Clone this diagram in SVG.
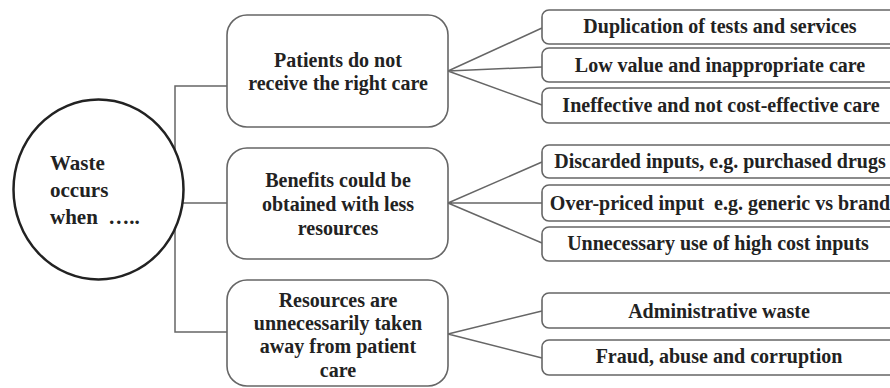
<svg xmlns="http://www.w3.org/2000/svg" width="890" height="388" viewBox="0 0 890 388">
<style>
.t{font-weight:bold;font-size:20px;fill:#222}
.c{text-anchor:middle}
.box{fill:#fff;stroke:#666;stroke-width:1.6}
.rb{fill:#fff;stroke:#666;stroke-width:1.6}
.ln{fill:none;stroke:#666;stroke-width:1.5}
</style>
<rect width="890" height="388" fill="#fff"/>
<g id="connectors">
<polyline class="ln" points="227,86 175,86 175,332 227,332"/>
<line class="ln" x1="183" y1="203" x2="227" y2="203"/>
<path class="ln" d="M448,71 L542,28 M448,71 L542,67 M448,71 L542,105"/>
<path class="ln" d="M448,203 L542,162 M448,203 L542,203 M448,203 L542,243"/>
<path class="ln" d="M448,334 L542,311 M448,334 L542,358"/>
</g>
<g class="t" font-family="Liberation Serif, Times New Roman, serif">
<g id="root">
<ellipse cx="98.5" cy="189.5" rx="85" ry="90" fill="#fff" stroke="#222" stroke-width="2.5"/>
<text x="50" y="170" font-size="21">Waste</text>
<text x="50" y="197" font-size="21">occurs</text>
<text x="50" y="224" font-size="21" xml:space="preserve">when  …..</text>
</g>
<g id="cat1">
<rect class="box" x="227" y="15" width="221" height="112" rx="20"/>
<text class="c" x="338" y="67">Patients do not</text>
<text class="c" x="338" y="90">receive the right care</text>
</g>
<g id="cat2">
<rect class="box" x="227" y="148" width="221" height="111" rx="20"/>
<text class="c" x="338" y="187">Benefits could be</text>
<text class="c" x="338" y="211">obtained with less</text>
<text class="c" x="338" y="235">resources</text>
</g>
<g id="cat3">
<rect class="box" x="227" y="280" width="221" height="106" rx="20"/>
<text class="c" x="338" y="307">Resources are</text>
<text class="c" x="338" y="330">unnecessarily taken</text>
<text class="c" x="338" y="353">away from patient</text>
<text class="c" x="338" y="377">care</text>
</g>
<g id="r1"><rect class="rb" x="542" y="10" width="360" height="34" rx="7"/><text class="c" x="720" y="33">Duplication of tests and services</text></g>
<g id="r2"><rect class="rb" x="542" y="48" width="360" height="34" rx="7"/><text class="c" x="720" y="72">Low value and inappropriate care</text></g>
<g id="r3"><rect class="rb" x="542" y="88" width="360" height="35" rx="7"/><text class="c" x="721" y="112">Ineffective and not cost-effective care</text></g>
<g id="r4"><rect class="rb" x="542" y="145" width="360" height="33" rx="7"/><text class="c" x="720" y="168">Discarded inputs, e.g. purchased drugs</text></g>
<g id="r5"><rect class="rb" x="542" y="185" width="360" height="36" rx="7"/><text class="c" x="720" y="210" xml:space="preserve">Over-priced input  e.g. generic vs brand</text></g>
<g id="r6"><rect class="rb" x="542" y="227" width="360" height="34" rx="7"/><text class="c" x="718" y="250">Unnecessary use of high cost inputs</text></g>
<g id="r7"><rect class="rb" x="542" y="293" width="360" height="35" rx="7"/><text class="c" x="719" y="318">Administrative waste</text></g>
<g id="r8"><rect class="rb" x="542" y="340" width="360" height="35" rx="7"/><text class="c" x="719" y="363">Fraud, abuse and corruption</text></g>
</g>
</svg>
